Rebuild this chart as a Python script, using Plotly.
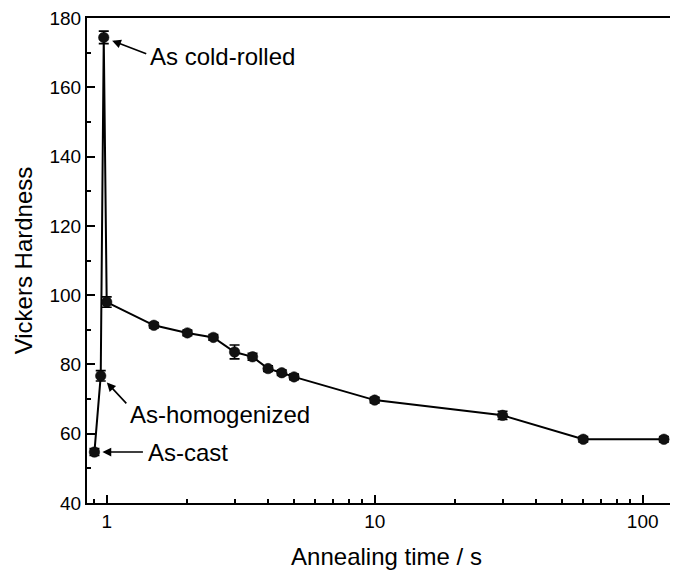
import math
import plotly.graph_objects as go

# Data
time_s = [0.9, 0.95, 0.975, 1, 1.5, 2, 2.5, 3, 3.5, 4, 4.5, 5, 10, 30, 60, 120]
hardness = [54.7, 76.7, 174.4, 98.0, 91.3, 89.1, 87.8, 83.6, 82.2, 78.8, 77.6, 76.4, 69.7, 65.3, 58.4, 58.4]
hardness_err = [1.0, 1.5, 1.8, 1.5, 0.8, 0.8, 0.8, 2.0, 1.0, 0.8, 0.8, 0.8, 0.8, 1.2, 0.8, 0.8]

x_major = [1, 10, 100]
x_major_text = ["1", "10", "100"]
x_minor = [0.9, 2, 3, 4, 5, 6, 7, 8, 9, 20, 30, 40, 50, 60, 70, 80, 90]
y_ticks = [40, 60, 80, 100, 120, 140, 160, 180]

labels = ["As-cast", "As-homogenized", "As cold-rolled"]

FONT = "Arial, 'Liberation Sans', sans-serif"

fig = go.Figure()
fig.add_trace(go.Scatter(
    x=time_s, y=hardness,
    mode="lines+markers",
    line=dict(color="black", width=2),
    marker=dict(symbol="circle", size=10.5, color="#111111",
                line=dict(color="#000000", width=0.5)),
    error_y=dict(type="data", array=hardness_err, visible=True,
                 color="black", thickness=1.6, width=5),
    showlegend=False,
))

# annotations: arrow from label to point
arrow_specs = [
    # (index, label, ax, ay, standoff, text xshift, text yshift)
    (0, labels[0], 50, 0, 8, 52, 0),
    (1, labels[1], 27, 29, 9, 27, -39),
    (2, labels[2], 44, 17, 9, 44, -19),
]
annotations = []
for idx, txt, ax, ay, so, tx, ty in arrow_specs:
    xv = math.log10(time_s[idx])
    yv = hardness[idx]
    annotations.append(dict(
        x=xv, y=yv, xref="x", yref="y", text="", showarrow=True,
        ax=ax, ay=ay, axref="pixel", ayref="pixel",
        arrowhead=2, arrowsize=1.1, arrowwidth=1.6, arrowcolor="black",
        standoff=so,
    ))
    annotations.append(dict(
        x=xv, y=yv, xref="x", yref="y", text=txt, showarrow=False,
        xanchor="left", yanchor="middle", xshift=tx, yshift=ty,
        font=dict(family=FONT, size=24, color="black"),
    ))

fig.update_layout(
    width=678, height=579,
    margin=dict(l=79, r=0, t=10, b=84),
    paper_bgcolor="white", plot_bgcolor="white",
    font=dict(family=FONT, color="black"),
    annotations=annotations,
    xaxis=dict(
        type="log", range=[-0.0735, 2.1616], automargin=False,
        showline=True, linecolor="black", linewidth=2, mirror=True,
        showgrid=False, zeroline=False,
        tickmode="array", tickvals=x_major, ticktext=x_major_text,
        ticks="inside", ticklen=8, tickwidth=2, tickcolor="black",
        tickfont=dict(family=FONT, size=19),
        minor=dict(tickmode="array", tickvals=x_minor, ticks="inside",
                   ticklen=4, tickwidth=1.5, tickcolor="black", showgrid=False),
        title=dict(text="Annealing time / s", font=dict(family=FONT, size=24), standoff=17),
    ),
    yaxis=dict(
        range=[40, 180], automargin=False, ticklabeloverflow="allow",
        showline=True, linecolor="black", linewidth=2, mirror=False,
        showgrid=False, zeroline=False,
        tickmode="array", tickvals=y_ticks,
        ticks="inside", ticklen=8, tickwidth=2, tickcolor="black",
        tickfont=dict(family=FONT, size=19),
        minor=dict(dtick=10, ticks="inside", ticklen=4, tickwidth=1.5,
                   tickcolor="black", showgrid=False),
        title=dict(text="Vickers Hardness", font=dict(family=FONT, size=24), standoff=10),
    ),
)

fig.write_html("out.html")
